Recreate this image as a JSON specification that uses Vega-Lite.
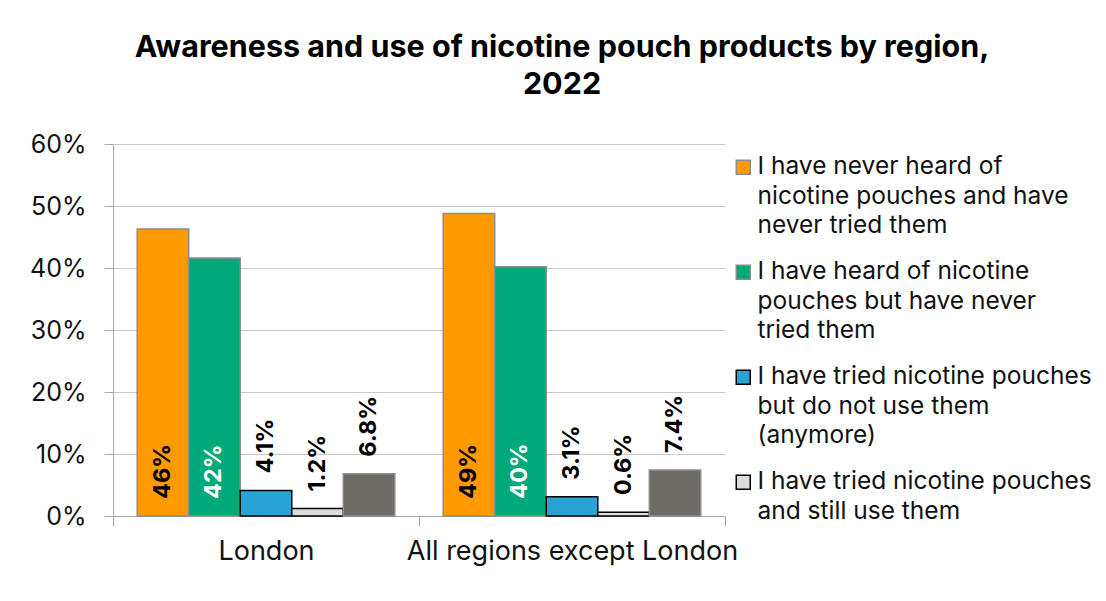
{
  "$schema": "https://vega.github.io/schema/vega-lite/v6.json",
  "autosize": "none",
  "width": 612,
  "height": 372,
  "padding": {"left": 113, "top": 144, "right": 381, "bottom": 85},
  "background": "white",
  "title": {
    "text": ["Awareness and use of nicotine pouch products by region,", "2022"],
    "font": "Inter",
    "fontSize": 30.5,
    "fontWeight": "bold",
    "lineHeight": 37,
    "color": "black",
    "anchor": "middle",
    "dx": 143,
    "offset": 32
  },
  "config": {
    "view": {"stroke": null},
    "font": "Inter",
    "style": {"guide-label": {"lineHeight": 29.5}}
  },
  "data": {
    "values": [
      {"region": "London", "series": "I have never heard of nicotine pouches and have never tried them", "value": 0.463},
      {"region": "London", "series": "I have heard of nicotine pouches but have never tried them", "value": 0.416},
      {"region": "London", "series": "I have tried nicotine pouches but do not use them (anymore)", "value": 0.041},
      {"region": "London", "series": "I have tried nicotine pouches and still use them", "value": 0.012},
      {"region": "London", "series": "Prefer not to say", "value": 0.068},
      {"region": "All regions except London", "series": "I have never heard of nicotine pouches and have never tried them", "value": 0.488},
      {"region": "All regions except London", "series": "I have heard of nicotine pouches but have never tried them", "value": 0.402},
      {"region": "All regions except London", "series": "I have tried nicotine pouches but do not use them (anymore)", "value": 0.031},
      {"region": "All regions except London", "series": "I have tried nicotine pouches and still use them", "value": 0.006},
      {"region": "All regions except London", "series": "Prefer not to say", "value": 0.074}
    ]
  },
  "encoding": {
    "x": {
      "field": "region",
      "type": "nominal",
      "sort": ["London", "All regions except London"],
      "scale": {"domain": ["London", "All regions except London"], "paddingInner": 0, "paddingOuter": 0},
      "axis": {
        "title": null,
        "labelAngle": 0,
        "labelFontSize": 27,
        "labelColor": "#111111",
        "labelPadding": 12,
        "labelLimit": 500,
        "tickBand": "extent",
        "tickSize": 10,
        "tickColor": "#a6a6a6",
        "domainColor": "#a6a6a6",
        "grid": false
      }
    },
    "xOffset": {
      "field": "series",
      "type": "nominal",
      "scale": {
        "domain": [
          "I have never heard of nicotine pouches and have never tried them",
          "I have heard of nicotine pouches but have never tried them",
          "I have tried nicotine pouches but do not use them (anymore)",
          "I have tried nicotine pouches and still use them",
          "Prefer not to say"
        ],
        "paddingInner": 0,
        "paddingOuter": 0.47
      }
    },
    "y": {
      "field": "value",
      "type": "quantitative",
      "scale": {"domain": [0, 0.6]},
      "axis": {
        "title": null,
        "format": ".0%",
        "values": [0, 0.1, 0.2, 0.3, 0.4, 0.5, 0.6],
        "labelFontSize": 25,
        "labelColor": "#111111",
        "labelPadding": 18,
        "tickSize": 9,
        "tickColor": "#a6a6a6",
        "domainColor": "#a6a6a6",
        "gridColor": "#c8c8c8",
        "gridWidth": 1
      }
    }
  },
  "layer": [
    {
      "mark": {"type": "bar", "strokeWidth": 1.5},
      "encoding": {
        "color": {
          "field": "series",
          "type": "nominal",
          "scale": {
            "domain": [
              "I have never heard of nicotine pouches and have never tried them",
              "I have heard of nicotine pouches but have never tried them",
              "I have tried nicotine pouches but do not use them (anymore)",
              "I have tried nicotine pouches and still use them",
              "Prefer not to say"
            ],
            "range": ["#ff9900", "#00aa78", "#29a3d6", "#dddddd", "#6e6a66"]
          },
          "legend": {
            "title": null,
            "orient": "none",
            "legendX": 618,
            "legendY": 11,
            "values": [
              "I have never heard of nicotine pouches and have never tried them",
              "I have heard of nicotine pouches but have never tried them",
              "I have tried nicotine pouches but do not use them (anymore)",
              "I have tried nicotine pouches and still use them"
            ],
            "labelExpr": "datum.value == 'I have never heard of nicotine pouches and have never tried them' ? ['I have never heard of', 'nicotine pouches and have', 'never tried them'] : datum.value == 'I have heard of nicotine pouches but have never tried them' ? ['I have heard of nicotine', 'pouches but have never', 'tried them'] : datum.value == 'I have tried nicotine pouches but do not use them (anymore)' ? ['I have tried nicotine pouches', 'but do not use them', '(anymore)'] : ['I have tried nicotine pouches', 'and still use them']",
            "labelFontSize": 24.5,
            "labelColor": "#111111",
            "labelLimit": 400,
            "symbolType": "square",
            "symbolSize": 196,
            "symbolStrokeWidth": 1.5,
            "labelOffset": 2,
            "rowPadding": 21
          }
        },
        "stroke": {
          "field": "series",
          "type": "nominal",
          "scale": {
            "domain": [
              "I have never heard of nicotine pouches and have never tried them",
              "I have heard of nicotine pouches but have never tried them",
              "I have tried nicotine pouches but do not use them (anymore)",
              "I have tried nicotine pouches and still use them",
              "Prefer not to say"
            ],
            "range": ["#8c8c8c", "#8c8c8c", "#000000", "#000000", "#8c8c8c"]
          },
          "legend": {
            "title": null,
            "orient": "none",
            "legendX": 618,
            "legendY": 11,
            "values": [
              "I have never heard of nicotine pouches and have never tried them",
              "I have heard of nicotine pouches but have never tried them",
              "I have tried nicotine pouches but do not use them (anymore)",
              "I have tried nicotine pouches and still use them"
            ],
            "labelExpr": "datum.value == 'I have never heard of nicotine pouches and have never tried them' ? ['I have never heard of', 'nicotine pouches and have', 'never tried them'] : datum.value == 'I have heard of nicotine pouches but have never tried them' ? ['I have heard of nicotine', 'pouches but have never', 'tried them'] : datum.value == 'I have tried nicotine pouches but do not use them (anymore)' ? ['I have tried nicotine pouches', 'but do not use them', '(anymore)'] : ['I have tried nicotine pouches', 'and still use them']",
            "labelFontSize": 24.5,
            "labelColor": "#111111",
            "labelLimit": 400,
            "symbolType": "square",
            "symbolSize": 196,
            "symbolStrokeWidth": 1.5,
            "labelOffset": 2,
            "rowPadding": 21
          }
        }
      }
    },
    {
      "transform": [{"filter": "datum.value > 0.2"}],
      "mark": {"type": "text", "angle": 270, "align": "left", "baseline": "middle", "dx": 17, "fontSize": 23.5, "fontWeight": "bold", "font": "Inter"},
      "encoding": {
        "y": {"datum": 0},
        "text": {"field": "value", "type": "quantitative", "format": ".0%"},
        "fill": {"condition": {"test": "datum.series == 'I have heard of nicotine pouches but have never tried them'", "value": "white"}, "value": "black"}
      }
    },
    {
      "transform": [{"filter": "datum.value < 0.2"}],
      "mark": {"type": "text", "angle": 270, "align": "left", "baseline": "middle", "dx": 17, "fontSize": 23.5, "fontWeight": "bold", "font": "Inter", "color": "black"},
      "encoding": {
        "text": {"field": "value", "type": "quantitative", "format": ".1%"}
      }
    }
  ]
}
